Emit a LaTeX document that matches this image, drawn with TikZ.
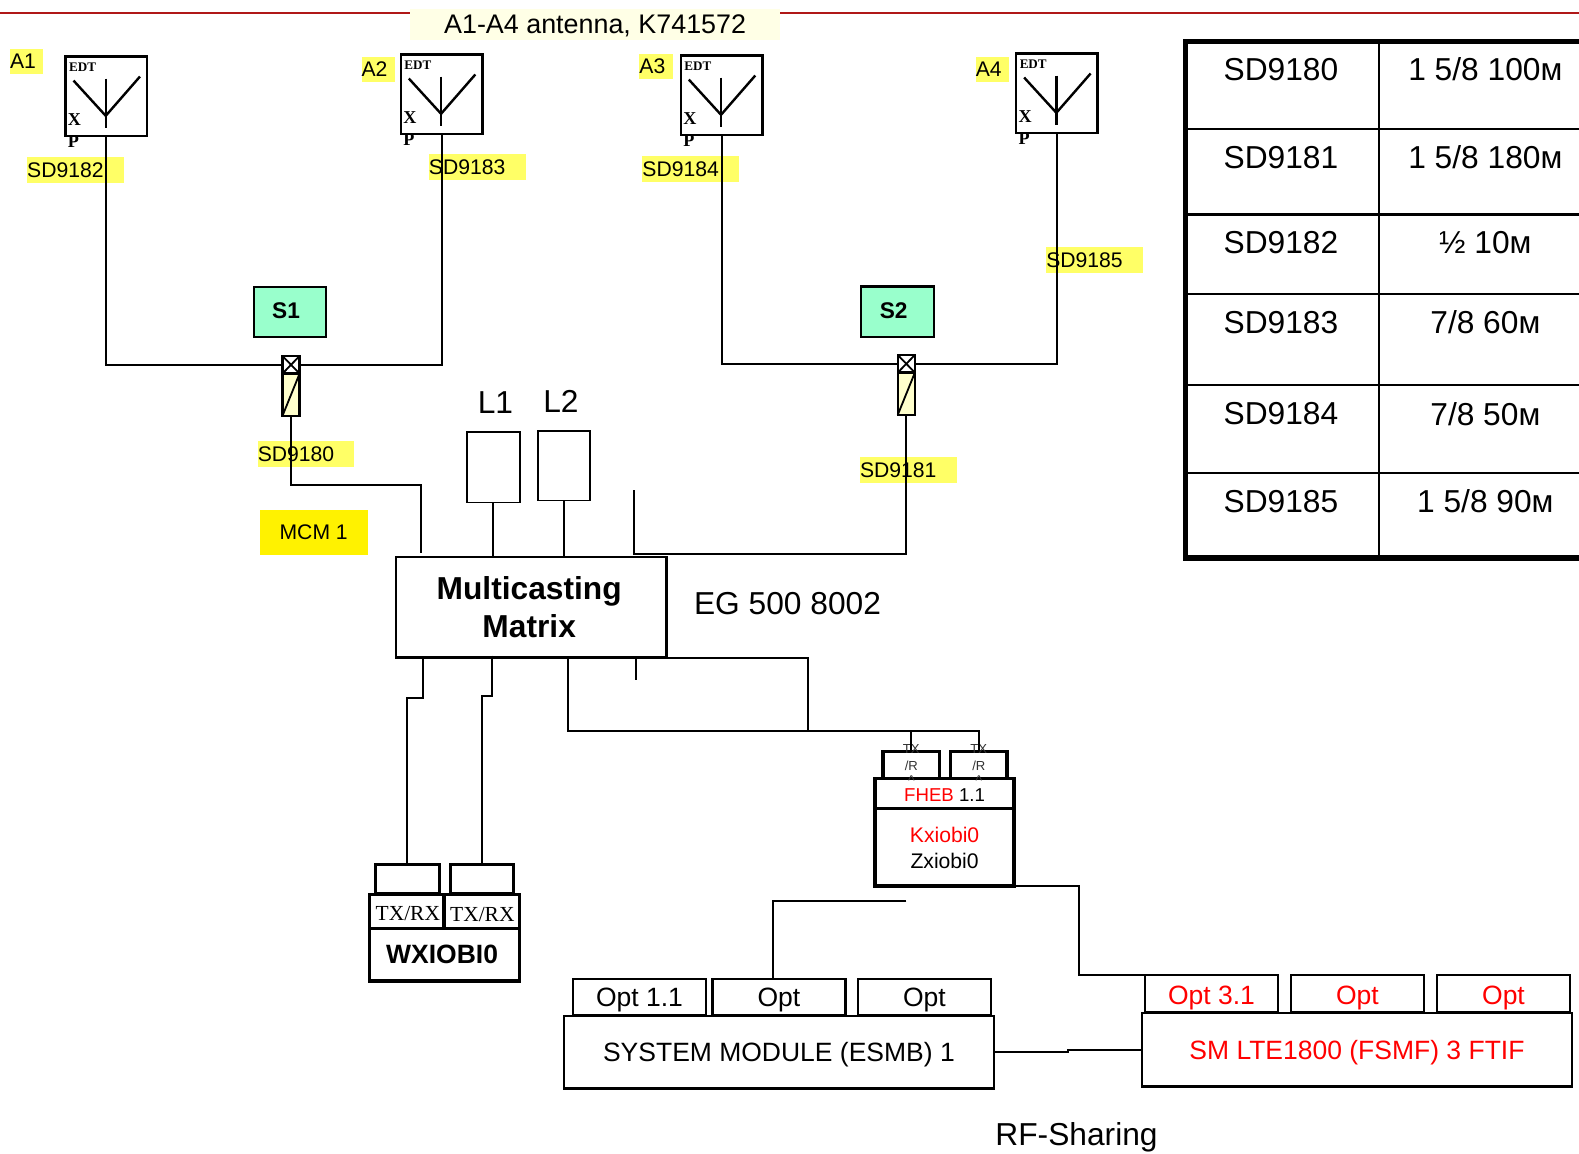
\documentclass[tikz,border=0pt]{standalone}
\usepackage{fontspec}
\setmainfont{Liberation Sans}
\newfontfamily\serifface{Liberation Serif}
\usepackage{tikz}

\definecolor{hlyellow}{HTML}{FFFF66}
\definecolor{titlecream}{HTML}{FFFFE6}
\definecolor{switchgreen}{HTML}{99FFCC}
\definecolor{combcream}{HTML}{FFFFCC}
\definecolor{railred}{HTML}{B01818}

\begin{document}
\begin{tikzpicture}[x=1pt,y=-1pt,
    wire/.style={line width=2pt},
    thinbox/.style={draw,line width=1.8pt,inner sep=0pt,outer sep=0pt},
    modbox/.style={draw,line width=2.4pt,inner sep=0pt,outer sep=0pt},
    cardbox/.style={draw,line width=3.4pt,inner sep=0pt,outer sep=0pt,fill=white},
    hl/.style={fill=hlyellow,inner sep=0pt,outer sep=0pt,anchor=north west,
        minimum height=26pt,align=left,font=\fontsize{21}{25}\selectfont},
    big/.style={inner sep=0pt,font=\fontsize{31.5}{37}\selectfont},
    midtext/.style={text depth=0pt,font=\fontsize{26.3}{31}\selectfont}]
    \useasboundingbox (0,0) rectangle (1568,1145);

    % Top rail and title
    \node[fill=titlecream,inner sep=0pt,minimum width=367pt,minimum height=31pt,text depth=0pt,
        font=\fontsize{26.7}{31}\selectfont] (title) at (591,24) {A1-A4 antenna, K741572};
    \coordinate (railL) at (0,13);
    \coordinate (railR) at (1568,13);
    \draw[railred,line width=2.5pt] (railL) -- (title.west |- railL);
    \draw[railred,line width=2.5pt] (title.east |- railR) -- (railR);

    % Yellow labels
    \foreach \name/\x/\y in {A1/10/49,A2/359/57,A3/635/54,A4/969/57}
        \node[hl,text width=33pt,minimum height=24pt] (lab\name) at (\x,\y) {\name};
    \foreach \name/\x/\y in {9182/27/156,9183/426/153,9184/638/155,9185/1039/245,9180/256/438,9181/854/454}
        \node[hl,text width=96pt] (sd\name) at (\x,\y) {SD\name};
    \node[fill=yellow,inner sep=0pt,minimum width=107pt,minimum height=45pt,
        font=\fontsize{21}{25}\selectfont] (mcm) at (311.5,528.5) {MCM 1};

    % Antennas
    \foreach \name/\x/\y in {A1/65/56,A2/398/54,A3/676/55,A4/1009/53} {
        \begin{scope}[shift={(\x,\y)}]
            \node[thinbox,line width=2.4pt,minimum width=81pt,minimum height=79pt] (ant\name) at (40.5,39.5) {};
            \draw[line width=2.4pt] (8,24) -- (40,59) -- (74,20);
            \draw[line width=2.4pt] (40,22) -- (40,71);
            \node[inner sep=0pt,font=\serifface\bfseries\fontsize{13}{15}\selectfont] (edt\name) at (17,11) {EDT};
            \node[inner sep=0pt,font=\serifface\bfseries\fontsize{18}{20}\selectfont] (x\name) at (9,63) {X};
            \node[inner sep=0pt,font=\serifface\bfseries\fontsize{18}{20}\selectfont] (p\name) at (8,85) {P};
        \end{scope}
    }

    % Switch labels and combiners
    \foreach \name/\x/\y in {S1/288/310,S2/891/309.5}
        \node[thinbox,fill=switchgreen,line width=2pt,minimum width=72pt,minimum height=50pt] (sw\name) at (\x,\y) {};
    \node[inner sep=0pt,font=\bfseries\fontsize{22.5}{26}\selectfont] (swtxtA) at (284,308.5) {S1};
    \node[inner sep=0pt,font=\bfseries\fontsize{22.5}{26}\selectfont] (swtxtB) at (887.5,308.5) {S2};
    \foreach \name/\x/\y in {S1/280.5/353.5,S2/891.5/352.5} {
        \begin{scope}[shift={(\x,\y)}]
            \node[thinbox,fill=white,line width=2.2pt,minimum width=17pt,minimum height=17.5pt] (cmb\name top) at (8.5,8.75) {};
            \node[thinbox,fill=combcream,line width=2.2pt,minimum width=17pt,minimum height=42pt] (cmb\name bot) at (8.5,38.5) {};
        \end{scope}
        \draw[line width=1.8pt] (cmb\name top.north west) -- (cmb\name top.south east);
        \draw[line width=1.8pt] (cmb\name top.north east) -- (cmb\name top.south west);
        \draw[line width=1.8pt] (cmb\name bot.south west) -- (cmb\name bot.north east);
    }

    % Matrix and load boxes
    \node[modbox,minimum width=269pt,minimum height=100pt] (matrix) at (527.5,603) {};
    \node[align=center,inner sep=0pt,font=\bfseries\fontsize{31.5}{37}\selectfont] (mxtxt) at (525.5,603) {Multicasting\\Matrix};
    \node[big] (egtxt) at (782,599) {EG 500 8002};
    \node[thinbox,minimum width=52pt,minimum height=70pt] (boxL1) at (490,464) {};
    \node[thinbox,minimum width=52pt,minimum height=69pt] (boxL2) at (560,462.5) {};
    \node[big] (labL1) at (492,400) {L1};
    \node[big] (labL2) at (557,399) {L2};

    % Feeders down to the matrix
    \draw[wire] (antA1.south) |- (cmbS1top.west);
    \draw[wire] (antA2.south) |- (cmbS1top.east);
    \draw[wire] (antA3.south) |- (cmbS2top.west);
    \draw[wire] (antA4.south) |- (cmbS2top.east);
    \coordinate (mxInA) at (418,549);
    \coordinate (mxTie) at (630,550);
    \coordinate (mxStub) at (630,487);
    \draw[wire] (cmbS1bot.south) -- ++(0,69) -| (mxInA);
    \draw[wire] (cmbS2bot.south) |- (mxTie) -- (mxStub);
    \draw[wire] (boxL1.south) -- (boxL1.south |- matrix.north);
    \draw[wire] (boxL2.south) -- (boxL2.south |- matrix.north);

    % WXIOBI0 card
    \foreach \i/\x in {1/404.5,2/478.5}
        \node[cardbox,line width=3pt,minimum width=63pt,minimum height=29pt] (wxTop\i) at (\x,872.5) {};
    \foreach \i/\x/\w in {1/404/74,2/478.5/75}
        \node[cardbox,minimum width=\w pt,minimum height=34pt] (wxPort\i) at (\x,905) {};
    \node[inner sep=0pt,font=\serifface\fontsize{21.3}{25}\selectfont] (wxtxtA) at (405,907) {TX/RX};
    \node[inner sep=0pt,font=\serifface\fontsize{21.3}{25}\selectfont] (wxtxtB) at (479,908) {TX/RX};
    \node[cardbox,minimum width=149pt,minimum height=52pt] (wxMain) at (441.5,948) {};
    \node[inner sep=0pt,font=\bfseries\fontsize{26.3}{31}\selectfont] (wxtxt) at (439,947.5) {WXIOBI0};

    % FHEB card
    \foreach \i/\x in {1/905,2/972}
        \node[cardbox,minimum width=56pt,minimum height=27pt] (fhTop\i) at (\x,759.5) {};
    \node[cardbox,minimum width=138pt,minimum height=30pt] (fhRow) at (938,788) {};
    \node[cardbox,minimum width=138pt,minimum height=77pt] (fhMain) at (938,841.5) {};
    \foreach \i/\x in {1/905,2/972} {
        \node[inner sep=0pt,font=\fontsize{13}{15}\selectfont,text=black!80] (fhTx\i) at (\x,744) {TX};
        \node[inner sep=0pt,font=\fontsize{13}{15}\selectfont,text=black!80] (fhR\i) at (\x,760) {/R};
        \node[inner sep=0pt,font=\fontsize{14}{15}\selectfont,text=black!80] (fhHat\i) at (\x,775) {\textasciicircum};
    }
    \node[inner sep=0pt,font=\fontsize{18.5}{22}\selectfont] (fhtxtA) at (938,789.5) {\textcolor{red}{FHEB} 1.1};
    \node[inner sep=0pt,align=center,font=\fontsize{21}{25.5}\selectfont] (fhtxtB) at (938,842) {\textcolor{red}{Kxiobi0}\\Zxiobi0};

    % Matrix outputs
    \coordinate (mxOutA) at (420,653);
    \coordinate (mxOutB) at (489,651);
    \coordinate (mxOutC) at (632,653);
    \coordinate (mxEndC) at (632,675);
    \coordinate (mxOutD) at (564,653);
    \coordinate (mxTieD) at (802,726);
    \draw[wire] (mxOutA) -- ++(0,40) -| (wxTop1.north);
    \draw[wire] (mxOutB) -- ++(0,40) -| (wxTop2.north);
    \draw[wire] (mxOutC) -- (mxEndC);
    \draw[wire] (mxOutD) -- ++(0,73) -| (fhTop2.north);
    \draw[wire] (matrix.south east) -| (mxTieD);
    \draw[wire] (fhTop1.north) -- ++(0,-19);

    % System modules
    \foreach \name/\x/\txt in {L1/635/Opt 1.1,L2/773.5/Opt,L3/918/Opt}
        \node[thinbox,midtext,line width=2.2pt,minimum width=132pt,minimum height=36pt] (opt\name) at (\x,990) {\txt};
    \node[thinbox,midtext,line width=2.4pt,minimum width=427pt,minimum height=72pt] (sysMod) at (773.5,1045) {SYSTEM MODULE (ESMB) 1};
    \foreach \name/\x/\txt in {R1/1203/Opt 3.1,R2/1348/Opt,R3/1493/Opt}
        \node[thinbox,midtext,line width=2.2pt,minimum width=132pt,minimum height=37pt,text=red,text height=22pt] (opt\name) at (\x,986.5) {\txt};
    \node[thinbox,midtext,line width=2.4pt,minimum width=427pt,minimum height=73pt,text=red] (smLte) at (1347.5,1042.5) {SM LTE1800 (FSMF) 3 FTIF};
    \coordinate (optTap) at (768,972);
    \coordinate (sysFree) at (900,895);
    \draw[wire] (sysFree) -| (optTap);
    \draw[wire] (fhMain.south east) -- ++(64,0) |- (optR1.north west);
    \draw[wire] (sysMod.east) -- ++(74,0) |- (smLte.west);
    \node[big,text depth=0pt] (rftxt) at (1069,1126) {RF-Sharing};

    % Cable table
    \draw[line width=5.5pt] (1568,41) -- (1177,41) -- (1177,554) -- (1568,554);
    \draw[line width=2pt] (1369,41) -- (1369,554);
    \foreach \y in {128,213,292,382,470}
        \draw[line width=2.2pt] (1177,\y) -- (1568,\y);
    \foreach \i/\y/\cab in {0/69/SD9180,1/156/SD9181,2/241/SD9182,3/320/SD9183,4/411/SD9184,5/498/SD9185}
        \node[big] (cab\i) at (1272,\y) {\cab};
    \node[big] (len0) at (1475,69) {1 5/8 100м};
    \node[big] (len1) at (1475,156) {1 5/8 180м};
    \node[big] (len2) at (1475,241) {½ 10м};
    \node[big] (len3) at (1475,320) {7/8 60м};
    \node[big] (len4) at (1475,411) {7/8 50м};
    \node[big] (len5) at (1475,498) {1 5/8 90м};
\end{tikzpicture}
\end{document}
